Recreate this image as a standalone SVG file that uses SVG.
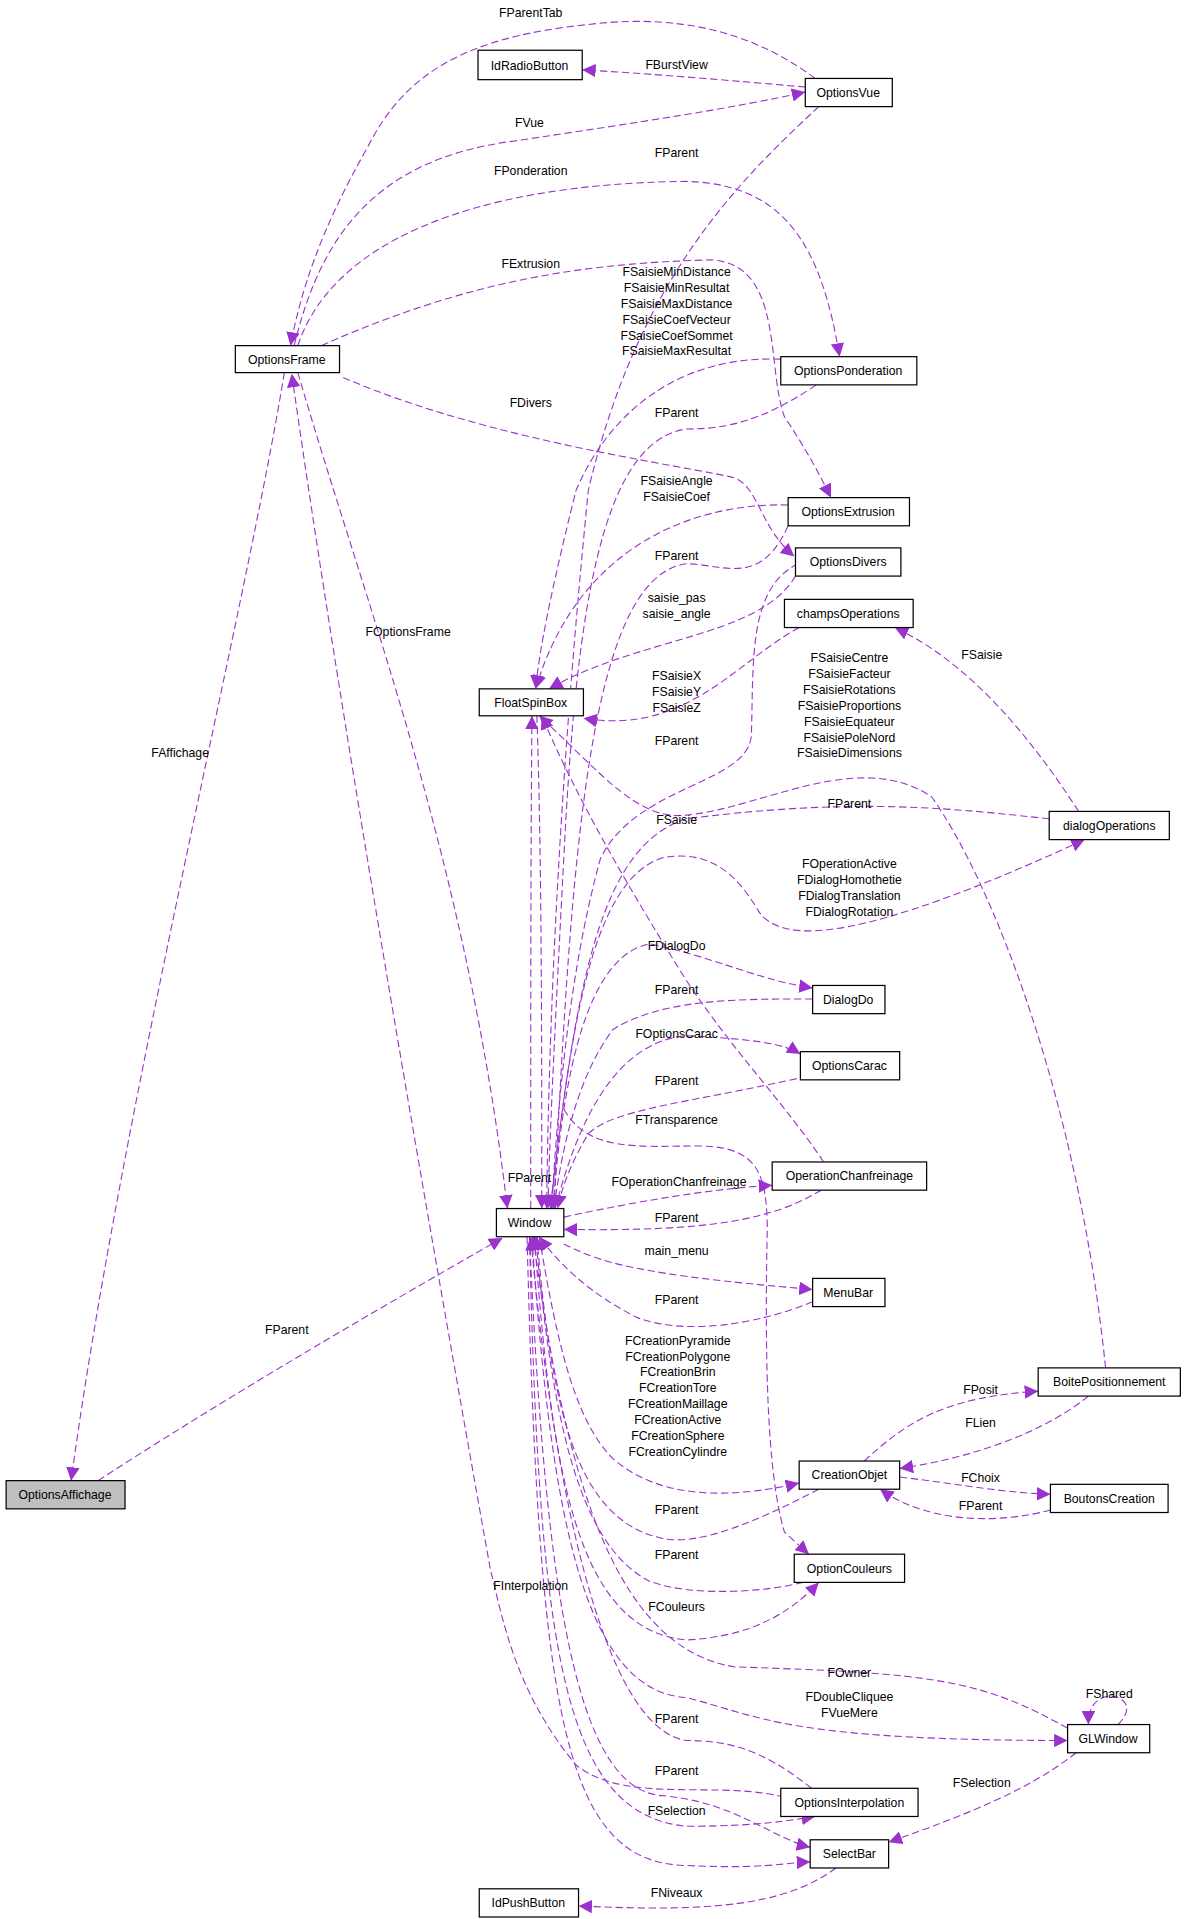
<svg xmlns="http://www.w3.org/2000/svg" width="1184" height="1919" viewBox="0 0 1184 1919">
<style>
.n rect{fill:#fff;stroke:#000;stroke-width:1}
.n text,.l text{font-family:"Liberation Sans",Arial,sans-serif;font-size:10px;text-anchor:middle;fill:#000}
.e path{fill:none;stroke:#9a32cd;stroke-width:0.9;stroke-dasharray:6,3}
</style>
<defs>
<marker id="a" viewBox="0 0 10 10" refX="10" refY="5" markerWidth="11" markerHeight="11" orient="auto" markerUnits="userSpaceOnUse"><path d="M0,0L10,5L0,10z" fill="#9a32cd"/></marker>
</defs>
<rect width="1184" height="1919" fill="#fff"/>
<g transform="scale(1.2257)">
<g id="edges" class="e" marker-end="url(#a)">
<path d="M665,64 C620,30 560,10 480,20 C380,30 330,60 300,120 C260,190 245,240 237,282"/>
<path d="M657,71 C600,66 530,60 475,57"/>
<path d="M240,282 C260,200 300,130 420,115 C520,100 600,88 657,75"/>
<path d="M668,87 C600,150 520,230 480,400 C460,600 448,800 446,986"/>
<path d="M243,282 C270,200 380,150 560,148 C640,150 670,200 685,291"/>
<path d="M262,282 C380,230 470,215 580,212 C640,215 625,300 640,340 C660,370 670,390 678,406"/>
<path d="M637,293 C560,290 500,330 470,400 C450,480 440,530 437,562"/>
<path d="M666,314 C620,345 590,350 560,350 C490,360 470,500 460,700 C452,850 448,940 447,986"/>
<path d="M280,308 C400,360 560,380 600,390 C620,400 620,430 648,454"/>
<path d="M643,412 C560,410 470,450 437,562"/>
<path d="M643,429 C620,480 590,460 560,460 C480,470 466,700 452,986"/>
<path d="M649,470 C620,520 520,520 448,562"/>
<path d="M652,512 C600,540 560,600 476,586"/>
<path d="M651,460 C610,480 615,540 613,600 C610,640 520,640 490,700 C465,790 455,900 450,986"/>
<path d="M243,304 C300,500 380,700 414,986"/>
<path d="M232,304 C200,500 100,900 58,1208"/>
<path d="M80,1208 C200,1130 340,1050 410,1010"/>
<path d="M880,662 C840,600 790,540 730,512"/>
<path d="M902,1116 C880,900 810,720 760,650 C700,610 620,660 560,665 C520,670 490,630 440,584"/>
<path d="M856,668 C780,660 700,650 560,668 C490,690 470,800 449,986"/>
<path d="M449,986 C465,850 480,720 540,700 C590,690 610,730 620,745 C640,770 700,770 885,685"/>
<path d="M672,948 C640,900 600,860 560,800 C510,720 470,650 442,584"/>
<path d="M451,986 C460,870 480,780 530,770 C580,780 620,800 663,806"/>
<path d="M663,815 C600,815 540,815 500,840 C470,880 458,940 452,986"/>
<path d="M453,986 C470,920 500,850 560,845 C620,848 640,852 653,860"/>
<path d="M650,880 C560,900 500,905 480,925 C465,950 458,970 455,986"/>
<path d="M460,905 C480,940 520,935 570,935 C620,935 625,960 626,1000 C624,1100 625,1200 640,1250 L660,1268"/>
<path d="M460,993 C520,980 580,970 630,967"/>
<path d="M670,971 C630,995 580,1005 460,1003"/>
<path d="M460,1015 C490,1030 520,1040 663,1052"/>
<path d="M663,1062 C620,1080 560,1090 520,1075 C480,1055 455,1030 440,1009"/>
<path d="M440,1009 C455,1100 470,1160 500,1190 C540,1225 600,1222 652,1210"/>
<path d="M668,1215 C620,1240 570,1262 540,1255 C470,1240 450,1150 438,1009"/>
<path d="M655,1291 C620,1300 560,1302 530,1290 C470,1260 450,1150 437,1009"/>
<path d="M436,1009 C450,1200 470,1330 560,1338 C620,1335 650,1310 668,1291"/>
<path d="M871,1410 C800,1370 760,1365 600,1360 C500,1345 460,1200 435,1009"/>
<path d="M434,1009 C450,1250 480,1380 560,1385 C620,1400 640,1420 871,1420"/>
<path d="M912,1407 C930,1390 910,1380 900,1385 C892,1388 888,1395 888,1407"/>
<path d="M878,1430 C840,1460 790,1480 725,1503"/>
<path d="M662,1459 C620,1425 590,1420 560,1420 C490,1410 450,1200 433,1009"/>
<path d="M432,1009 C445,1300 470,1460 540,1465 C600,1470 630,1500 661,1507"/>
<path d="M432,1009 C440,1350 460,1480 560,1490 C620,1490 645,1485 665,1482"/>
<path d="M430,1009 C440,1400 460,1520 560,1522 C620,1525 640,1520 661,1519"/>
<path d="M672,1482 C620,1440 520,1480 470,1440 C420,1380 410,1320 400,1280 C350,1000 280,600 238,305"/>
<path d="M682,1524 C640,1555 580,1560 472,1555"/>
<path d="M888,1139 C850,1170 790,1190 734,1198"/>
<path d="M705,1192 C740,1160 770,1140 847,1135"/>
<path d="M734,1205 C790,1212 820,1218 857,1219"/>
<path d="M857,1232 C820,1242 760,1245 718,1215"/>
<path d="M433,986 C433,800 433,700 434,584"/>
<path d="M438,584 C442,700 442,850 442,986"/>
</g>
<g class="l">
<text x="433" y="14">FParentTab</text>
<text x="552" y="56">FBurstView</text>
<text x="432" y="104">FVue</text>
<text x="552" y="128">FParent</text>
<text x="433" y="143">FPonderation</text>
<text x="433" y="219">FExtrusion</text>
<text x="552" y="225">FSaisieMinDistance</text>
<text x="552" y="238">FSaisieMinResultat</text>
<text x="552" y="251">FSaisieMaxDistance</text>
<text x="552" y="264">FSaisieCoefVecteur</text>
<text x="552" y="277">FSaisieCoefSommet</text>
<text x="552" y="290">FSaisieMaxResultat</text>
<text x="433" y="332">FDivers</text>
<text x="552" y="340">FParent</text>
<text x="552" y="396">FSaisieAngle</text>
<text x="552" y="409">FSaisieCoef</text>
<text x="552" y="457">FParent</text>
<text x="552" y="491">saisie_pas</text>
<text x="552" y="504">saisie_angle</text>
<text x="333" y="519">FOptionsFrame</text>
<text x="801" y="538">FSaisie</text>
<text x="693" y="540">FSaisieCentre</text>
<text x="693" y="553">FSaisieFacteur</text>
<text x="693" y="566">FSaisieRotations</text>
<text x="693" y="579">FSaisieProportions</text>
<text x="693" y="592">FSaisieEquateur</text>
<text x="693" y="605">FSaisiePoleNord</text>
<text x="693" y="618">FSaisieDimensions</text>
<text x="552" y="555">FSaisieX</text>
<text x="552" y="568">FSaisieY</text>
<text x="552" y="581">FSaisieZ</text>
<text x="552" y="608">FParent</text>
<text x="147" y="618">FAffichage</text>
<text x="693" y="659">FParent</text>
<text x="552" y="672">FSaisie</text>
<text x="693" y="708">FOperationActive</text>
<text x="693" y="721">FDialogHomothetie</text>
<text x="693" y="734">FDialogTranslation</text>
<text x="693" y="747">FDialogRotation</text>
<text x="552" y="775">FDialogDo</text>
<text x="552" y="811">FParent</text>
<text x="552" y="847">FOptionsCarac</text>
<text x="552" y="885">FParent</text>
<text x="552" y="917">FTransparence</text>
<text x="432" y="964">FParent</text>
<text x="554" y="968">FOperationChanfreinage</text>
<text x="552" y="997">FParent</text>
<text x="552" y="1024">main_menu</text>
<text x="552" y="1064">FParent</text>
<text x="234" y="1088">FParent</text>
<text x="553" y="1097">FCreationPyramide</text>
<text x="553" y="1110">FCreationPolygone</text>
<text x="553" y="1123">FCreationBrin</text>
<text x="553" y="1136">FCreationTore</text>
<text x="553" y="1149">FCreationMaillage</text>
<text x="553" y="1162">FCreationActive</text>
<text x="553" y="1175">FCreationSphere</text>
<text x="553" y="1188">FCreationCylindre</text>
<text x="800" y="1137">FPosit</text>
<text x="800" y="1164">FLien</text>
<text x="800" y="1209">FChoix</text>
<text x="800" y="1232">FParent</text>
<text x="552" y="1235">FParent</text>
<text x="552" y="1272">FParent</text>
<text x="433" y="1297">FInterpolation</text>
<text x="552" y="1314">FCouleurs</text>
<text x="693" y="1368">FOwner</text>
<text x="905" y="1385">FShared</text>
<text x="693" y="1388">FDoubleCliquee</text>
<text x="693" y="1401">FVueMere</text>
<text x="552" y="1406">FParent</text>
<text x="552" y="1448">FParent</text>
<text x="801" y="1458">FSelection</text>
<text x="552" y="1481">FSelection</text>
<text x="552" y="1548">FNiveaux</text>
</g>
<g id="IdRadioButton" class="n"><rect x="390" y="41" width="85" height="24"/><text x="432" y="57">IdRadioButton</text></g>
<g id="OptionsVue" class="n"><rect x="657" y="64" width="71" height="23"/><text x="692" y="79">OptionsVue</text></g>
<g id="OptionsFrame" class="n"><rect x="192" y="282" width="85" height="22"/><text x="234" y="297">OptionsFrame</text></g>
<g id="OptionsPonderation" class="n"><rect x="637" y="291" width="111" height="23"/><text x="692" y="306">OptionsPonderation</text></g>
<g id="OptionsExtrusion" class="n"><rect x="643" y="406" width="99" height="23"/><text x="692" y="421">OptionsExtrusion</text></g>
<g id="OptionsDivers" class="n"><rect x="649" y="447" width="86" height="23"/><text x="692" y="462">OptionsDivers</text></g>
<g id="champsOperations" class="n"><rect x="640" y="489" width="105" height="23"/><text x="692" y="504">champsOperations</text></g>
<g id="FloatSpinBox" class="n"><rect x="391" y="562" width="85" height="22"/><text x="433" y="577">FloatSpinBox</text></g>
<g id="dialogOperations" class="n"><rect x="856" y="662" width="98" height="23"/><text x="905" y="677">dialogOperations</text></g>
<g id="DialogDo" class="n"><rect x="663" y="804" width="59" height="23"/><text x="692" y="819">DialogDo</text></g>
<g id="OptionsCarac" class="n"><rect x="653" y="858" width="81" height="23"/><text x="693" y="873">OptionsCarac</text></g>
<g id="OperationChanfreinage" class="n"><rect x="630" y="948" width="126" height="23"/><text x="693" y="963">OperationChanfreinage</text></g>
<g id="Window" class="n"><rect x="405" y="986" width="55" height="23"/><text x="432" y="1001">Window</text></g>
<g id="MenuBar" class="n"><rect x="663" y="1043" width="59" height="23"/><text x="692" y="1058">MenuBar</text></g>
<g id="BoitePositionnement" class="n"><rect x="847" y="1116" width="116" height="23"/><text x="905" y="1131">BoitePositionnement</text></g>
<g id="OptionsAffichage" class="n"><rect x="5" y="1208" width="97" height="23" style="fill:#bfbfbf"/><text x="53" y="1223">OptionsAffichage</text></g>
<g id="CreationObjet" class="n"><rect x="652" y="1192" width="82" height="23"/><text x="693" y="1207">CreationObjet</text></g>
<g id="BoutonsCreation" class="n"><rect x="857" y="1211" width="96" height="23"/><text x="905" y="1226">BoutonsCreation</text></g>
<g id="OptionCouleurs" class="n"><rect x="648" y="1268" width="90" height="23"/><text x="693" y="1283">OptionCouleurs</text></g>
<g id="GLWindow" class="n"><rect x="871" y="1407" width="67" height="23"/><text x="904" y="1422">GLWindow</text></g>
<g id="OptionsInterpolation" class="n"><rect x="637" y="1459" width="112" height="23"/><text x="693" y="1474">OptionsInterpolation</text></g>
<g id="SelectBar" class="n"><rect x="661" y="1501" width="64" height="23"/><text x="693" y="1516">SelectBar</text></g>
<g id="IdPushButton" class="n"><rect x="391" y="1541" width="81" height="23"/><text x="431" y="1556">IdPushButton</text></g>
</g>
</svg>
